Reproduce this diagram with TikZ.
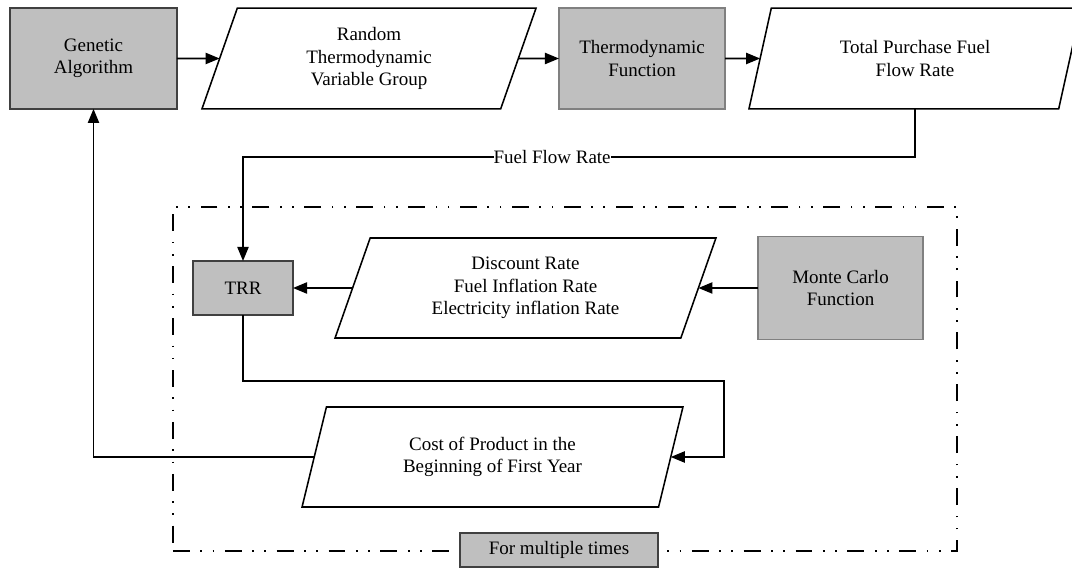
\documentclass[tikz,border=0pt]{standalone}
\usepackage{fontspec}
\setmainfont{Liberation Serif}
\usepackage{xcolor}
\usetikzlibrary{shapes.geometric,arrows.meta,positioning,calc}
\definecolor{boxgray}{RGB}{191,191,191}
\definecolor{darkedge}{RGB}{64,64,64}
\definecolor{midedge}{RGB}{128,128,128}

\begin{document}
\begin{tikzpicture}[
    x=0.025cm, y=-0.025cm,
    font=\fontsize{13.5}{16}\selectfont,
    proc/.style={rectangle, draw=darkedge, fill=boxgray, line width=1.2pt, align=center, outer sep=0pt, minimum width=4.17cm, minimum height=2.52cm},
    func/.style={proc, draw=midedge, line width=1pt},
    data/.style={trapezium, trapezium left angle=63.7, trapezium right angle=116.3, trapezium stretches body, draw, fill=white, line width=1.1pt, align=center, outer sep=0pt, minimum height=2.52cm},
    loopbox/.style={draw, line width=1.5pt, dash pattern=on 12pt off 7.5pt on 1.2pt off 7.5pt on 1.2pt off 7.5pt, minimum width=19.6cm, minimum height=8.6cm, outer sep=0pt},
    arrow/.style={-{Triangle[length=10pt,width=8pt]}, line width=1.1pt},
    lbl/.style={fill=white, inner sep=0pt}
]
    \useasboundingbox (0,0) rectangle (1072,569);

    % Repeated part
    \node[loopbox] (loop) at (565,379) {};

    % Top row
    \node[proc] (ga) at (93.5,58.5) {Genetic\\Algorithm};
    \node[data, minimum width=8.35cm] (rnd) at (369,58.5) {Random\\Thermodynamic\\Variable Group};
    \node[func, minimum width=4.15cm] (thermo) at (642,58.5) {Thermodynamic\\Function};
    \node[data, minimum width=8.3cm] (tot) at (915,58.5) {Total Purchase Fuel\\Flow Rate};

    % Inside the loop
    \node[proc, minimum width=2.5cm, minimum height=1.35cm] (trr) at (243,288) {TRR};
    \node[data, minimum width=9.52cm, minimum height=2.5cm] (disc) at (525.5,288) {Discount Rate\\Fuel Inflation Rate\\Electricity inflation Rate};
    \node[func, minimum width=4.13cm, minimum height=2.57cm] (mc) at (840.5,288) {Monte Carlo\\Function};
    \node[data, minimum width=9.52cm, minimum height=2.5cm] (cost) at (492.5,457) {Cost of Product in the\\Beginning of First Year};
    \node[proc, minimum width=4.95cm, minimum height=0.85cm, line width=1pt] (fmt) at (559,550) {For multiple times};

    % Bends
    \coordinate (fuel) at (243,157);
    \coordinate (turn) at (724,381);

    % Arrows - top row
    \draw[arrow] (ga) -- (rnd);
    \draw[arrow] (rnd) -- (thermo);
    \draw[arrow] (thermo) -- (tot);

    % Arrows - fuel flow and loop
    \draw[arrow] (tot) |- node[lbl, pos=0.77] (ffr) {Fuel Flow Rate} (fuel) -- (trr);
    \draw[arrow] (disc) -- (trr);
    \draw[arrow] (mc) -- (disc);
    \draw[arrow] (trr) |- (turn) |- (cost);
    \draw[arrow] (cost) -| (ga);
\end{tikzpicture}
\end{document}
